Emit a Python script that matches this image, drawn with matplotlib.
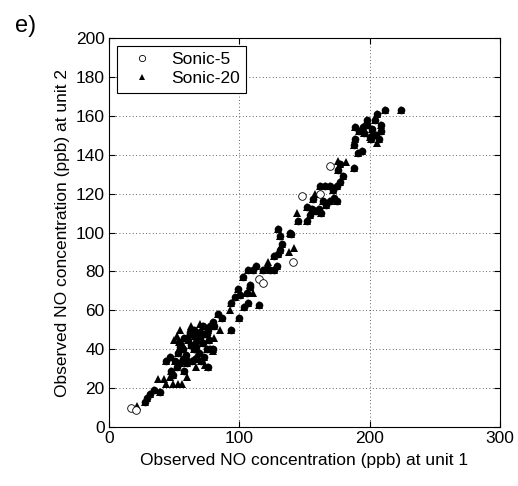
import matplotlib

matplotlib.use("Agg")
from matplotlib import pyplot as plt
from matplotlib.lines import Line2D

plt.rcParams["font.family"] = ["Liberation Sans", "DejaVu Sans"]

# NO at unit 1 vs unit 2 (ppb)
sonic5_x = [17, 21, 115, 118, 141, 148, 162, 170]
sonic5_y = [10, 9, 76, 74, 85, 119, 120, 134]

# points shared by both runs: filled circle with a triangle on top
both_x = [224, 212, 206, 198, 204, 189, 195, 202, 209, 209, 203, 200, 189, 188, 194, 191, 198, 201,
          177, 188, 176, 180, 177, 175, 170, 166, 162, 172, 173, 175, 170, 164, 157, 152, 156, 159,
          163, 154, 167, 161, 145, 152, 140, 139, 130, 131, 133, 131, 130, 127, 129, 127, 124, 118,
          113, 111, 107, 103, 108, 121, 99, 108, 106, 101, 97, 94, 107, 104, 115, 84, 87, 100, 80,
          78, 81, 94, 72, 65, 62, 75, 70, 61, 67, 72, 78, 55, 57, 65, 74, 62, 67, 75, 80, 47, 51, 44,
          57, 64, 71, 76, 52, 48, 58, 49, 29, 32, 39, 28, 35, 53, 59, 63, 66, 70, 77, 60, 55, 69, 73,
          66, 54, 58, 76, 205, 207, 196, 192]
both_y = [163, 163, 161, 158, 158, 154, 154, 153, 155, 152, 150, 149, 148, 145, 142, 141, 155, 148,
          135, 133, 132, 129, 126, 124, 124, 124, 124, 122, 118, 116, 116, 116, 117, 113, 112, 111,
          110, 109, 114, 112, 106, 106, 99, 100, 102, 98, 94, 91, 89, 88, 83, 81, 81, 81,
          83, 81, 81, 77, 73, 82, 71, 72, 69, 68, 67, 64, 64, 62, 63, 58, 56, 56, 54,
          52, 52, 50, 52, 50, 49, 48, 46, 45, 44, 43, 40, 41, 40, 40, 48, 48, 41, 40, 40, 36, 34, 34,
          35, 34, 34, 31, 31, 29, 29, 27, 15, 17, 18, 13, 19, 38, 37, 42, 47, 49, 45, 33, 33, 38,
          36, 35, 44, 46, 50, 150, 148, 151, 152]

# Sonic-20 points without a matching circle
sonic20_x = [206, 182, 176, 158, 144, 122, 138, 142, 111, 93, 85, 81, 80, 56, 67, 60, 38, 42, 44, 49,
             53, 56, 22, 47, 60, 68, 74, 52, 50, 55, 63, 70]
sonic20_y = [146, 136, 137, 120, 110, 85, 90, 92, 69, 60, 50, 46, 39, 43, 31, 26, 25, 25, 22, 22,
             22, 22, 11, 26, 36, 37, 32, 47, 45, 50, 52, 53]

fig = plt.figure(figsize=(5.18, 4.86), dpi=100)
ax = fig.add_axes([0.210, 0.121, 0.755, 0.801])

ax.plot(both_x, both_y, "o", color="black", markersize=5.5, markeredgewidth=0)
ax.plot(both_x, both_y, "^", color="black", markersize=5.5, markeredgewidth=0)
ax.plot(sonic20_x, sonic20_y, "^", color="black", markersize=5.5, markeredgewidth=0)
ax.plot(sonic5_x, sonic5_y, "o", markerfacecolor="white", markeredgecolor="black",
        markersize=5.5, markeredgewidth=0.6)

ax.set_xlim(0, 300)
ax.set_ylim(0, 200)
ax.set_xticks([0, 100, 200, 300])
ax.set_yticks(range(0, 201, 20))
ax.grid(True, linestyle=(0, (1, 3)), color="#333333", linewidth=0.6)
ax.tick_params(direction="in", top=True, right=True, labelsize=12.5, length=4, pad=3)
for spine in ax.spines.values():
    spine.set_linewidth(0.8)

ax.set_xlabel("Observed NO concentration (ppb) at unit 1", fontsize=12.5, labelpad=5)
ax.set_ylabel("Observed NO concentration (ppb) at unit 2", fontsize=12.5, labelpad=4)

handles = [
    Line2D([], [], linestyle="none", marker="o", markerfacecolor="white", markeredgecolor="black",
           markersize=4.5, markeredgewidth=0.6),
    Line2D([], [], linestyle="none", marker="^", color="black", markersize=4.5, markeredgewidth=0),
]
leg = ax.legend(handles, ["Sonic-5", "Sonic-20"], loc="upper left", fontsize=12.5, fancybox=False,
                edgecolor="black", framealpha=1, borderaxespad=0.45, handletextpad=0.6,
                borderpad=0.35, labelspacing=0.25, handlelength=2.2)
leg.get_frame().set_linewidth(0.8)

fig.text(0.028, 0.935, "e)", fontsize=17)

fig.savefig("out.png", dpi=100)
